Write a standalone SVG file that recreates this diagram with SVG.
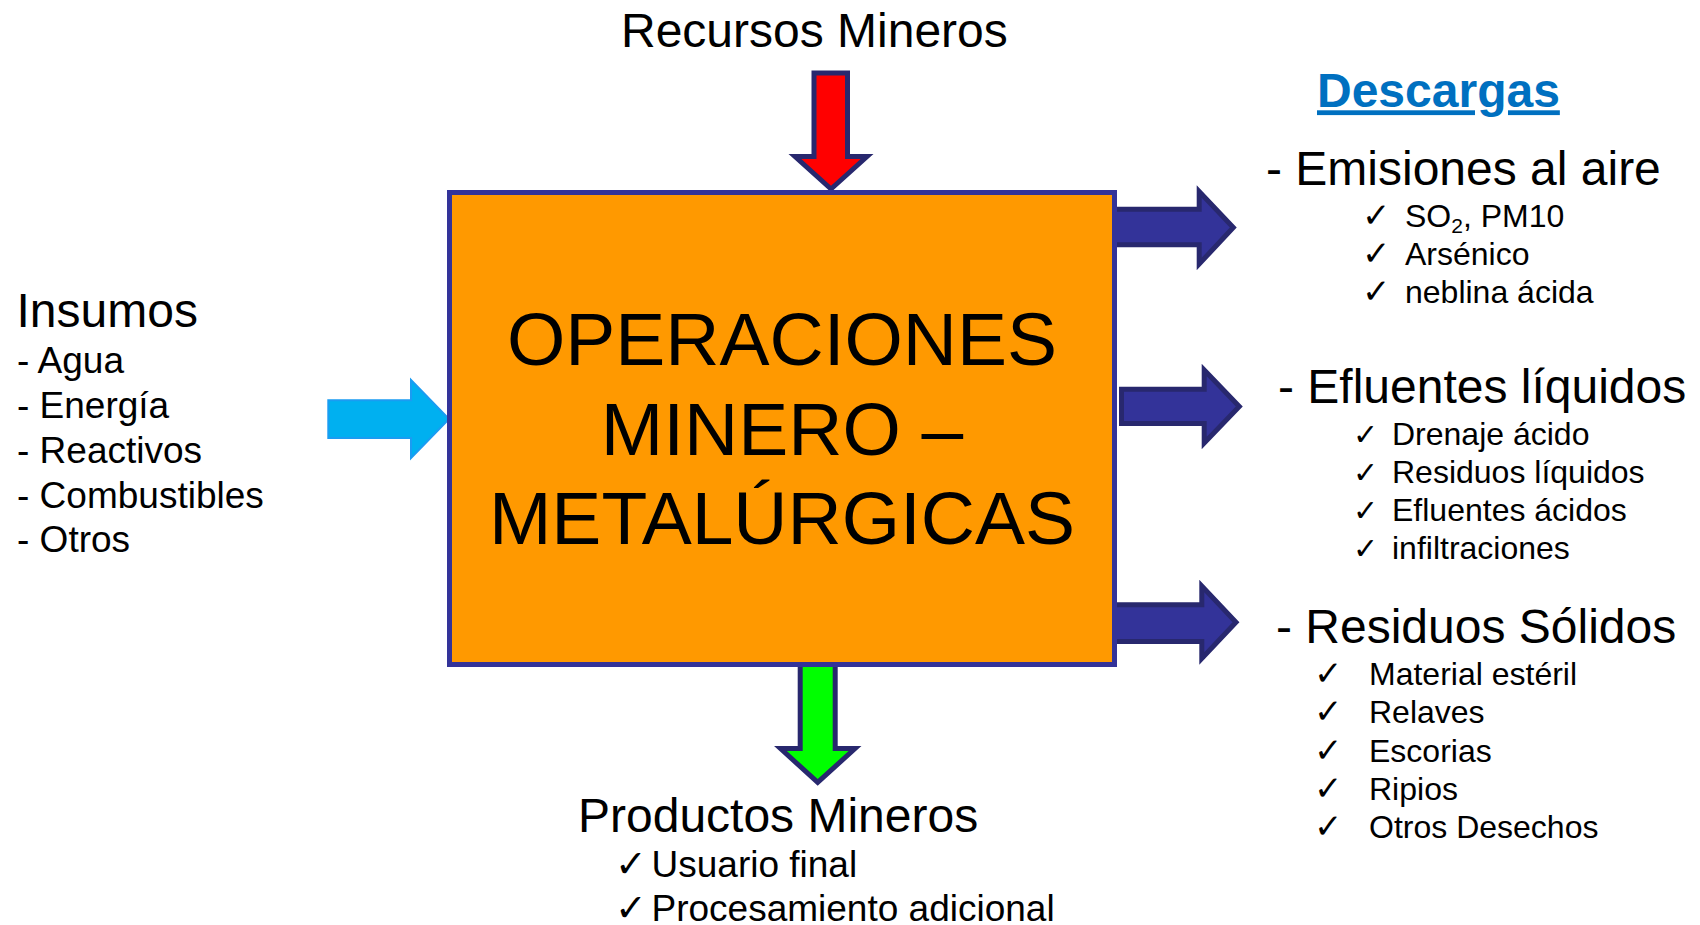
<svg xmlns="http://www.w3.org/2000/svg" width="1700" height="925" viewBox="0 0 1700 925">
<style>
text{font-family:"Liberation Sans",Arial,sans-serif;fill:#000}
.h48{font-size:48px}
.i36{font-size:37px}
.i32{font-size:32px}
.ck{font-family:"DejaVu Sans",sans-serif;font-size:34px}
.ckt{font-family:"DejaVu Sans",sans-serif;font-size:30px}
.ckb{font-family:"DejaVu Sans",sans-serif;font-size:38px}
.arr{stroke:#28286E;stroke-width:5;stroke-linejoin:miter}
.out{fill:#333399}
</style>
<rect width="1700" height="925" fill="#fff"/>
<g id="connectors">
<polygon id="arrow-recursos" class="arr" fill="#FF0000" points="814,73 847.5,73 847.5,156.5 867,156.5 831,189 795,156.5 814,156.5"/>
<polygon id="arrow-productos" class="arr" fill="#00FF00" points="800.2,664 835.2,664 835.2,748.5 855,748.5 817.7,782.4 780.5,748.5 800.2,748.5"/>
<polygon id="arrow-insumos" fill="#00B0F0" stroke="#1A9CF2" stroke-width="2" points="328.3,400.3 411,400.3 411,380 449,419 411,458 411,438 328.3,438"/>
<polygon id="arrow-emisiones" class="arr out" points="1114,209.2 1199.2,209.2 1199.2,191.5 1233.3,227.5 1199.2,264 1199.2,244.8 1114,244.8"/>
<polygon id="arrow-efluentes" class="arr out" points="1121.5,389.2 1204.2,389.2 1204.2,370 1239.3,406.5 1204.2,443 1204.2,423.5 1121.5,423.5"/>
<polygon id="arrow-residuos" class="arr out" points="1114,604.8 1201.8,604.8 1201.8,586 1236,622.3 1201.8,658.5 1201.8,641.5 1114,641.5"/>
</g>
<g id="operaciones">
<rect x="449.5" y="192.5" width="665" height="472" fill="#FF9900" stroke="#333399" stroke-width="5"/>
<text x="782" y="364.5" font-size="75" text-anchor="middle">OPERACIONES</text>
<text x="782" y="454.5" font-size="75" text-anchor="middle">MINERO –</text>
<text x="782" y="543.5" font-size="75" text-anchor="middle">METALÚRGICAS</text>
</g>
<g id="recursos">
<text class="h48" x="621" y="47">Recursos Mineros</text>
</g>
<g id="insumos">
<text x="16.5" y="327" font-size="48">Insumos</text>
<text class="i36" x="17" y="373.3">- Agua</text>
<text class="i36" x="17" y="417.7">- Energía</text>
<text class="i36" x="17" y="462.7">- Reactivos</text>
<text class="i36" x="17" y="507.7">- Combustibles</text>
<text class="i36" x="17" y="551.7">- Otros</text>
</g>
<g id="productos">
<text class="h48" x="578" y="831.7">Productos Mineros</text>
<text class="ckb" x="615" y="877.3">✓</text>
<text class="i36" x="651.5" y="877.3">Usuario final</text>
<text class="ckb" x="615" y="920.5">✓</text>
<text class="i36" x="651.5" y="920.5">Procesamiento adicional</text>
</g>
<g id="descargas">
<text x="1317" y="107.3" font-size="48" font-weight="bold" fill="#0070C0" style="fill:#0070C0" text-decoration="underline">Descargas</text>
</g>
<g id="emisiones">
<text class="h48" x="1266" y="185">- Emisiones al aire</text>
<text class="ck" x="1362" y="226.7">✓</text>
<text class="i32" x="1405" y="226.7">SO<tspan font-size="21" dy="6">2</tspan><tspan dy="-6">, PM10</tspan></text>
<text class="ck" x="1362" y="265">✓</text>
<text class="i32" x="1405" y="265">Arsénico</text>
<text class="ck" x="1362" y="303.3">✓</text>
<text class="i32" x="1405" y="303.3">neblina ácida</text>
</g>
<g id="efluentes">
<text class="h48" x="1278" y="403">- Efluentes líquidos</text>
<text class="ckt" x="1353" y="445">✓</text>
<text class="i32" x="1392" y="445">Drenaje ácido</text>
<text class="ckt" x="1353" y="483">✓</text>
<text class="i32" x="1392" y="483">Residuos líquidos</text>
<text class="ckt" x="1353" y="521">✓</text>
<text class="i32" x="1392" y="521">Efluentes ácidos</text>
<text class="ckt" x="1353" y="559">✓</text>
<text class="i32" x="1392" y="559">infiltraciones</text>
</g>
<g id="residuos">
<text class="h48" x="1276" y="643.3">- Residuos Sólidos</text>
<text class="ck" x="1314" y="685">✓</text>
<text class="i32" x="1369" y="685">Material estéril</text>
<text class="ck" x="1314" y="723.3">✓</text>
<text class="i32" x="1369" y="723.3">Relaves</text>
<text class="ck" x="1314" y="762.3">✓</text>
<text class="i32" x="1369" y="762.3">Escorias</text>
<text class="ck" x="1314" y="800">✓</text>
<text class="i32" x="1369" y="800">Ripios</text>
<text class="ck" x="1314" y="838.3">✓</text>
<text class="i32" x="1369" y="838.3">Otros Desechos</text>
</g>
</svg>
